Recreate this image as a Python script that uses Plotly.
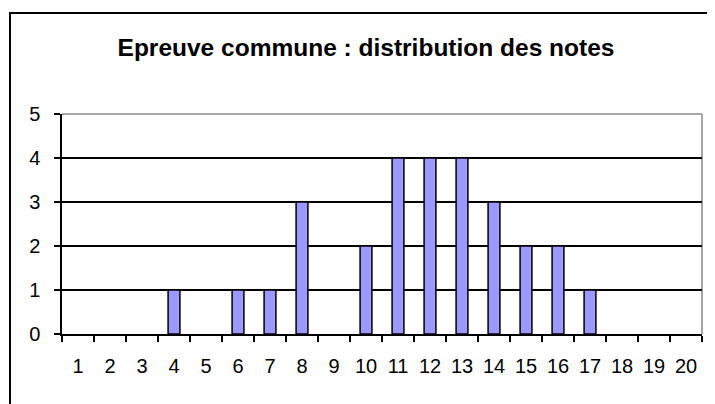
import plotly.graph_objects as go

notes = [str(i) for i in range(1, 21)]
effectifs = [0, 0, 0, 1, 0, 1, 1, 3, 0, 2, 4, 4, 4, 3, 2, 2, 1, 0, 0, 0]
y_ticks = [0, 1, 2, 3, 4, 5]

# zero counts draw no bar (no outline stub)
bar_y = [v if v else None for v in effectifs]

fig = go.Figure(go.Bar(
    x=notes, y=bar_y,
    marker=dict(color="#9999FF", line=dict(color="black", width=1.5)),
    width=0.37,
))

# page body has an 8px margin, so figure coords = screen coords - 8
OFF = 8
W, H = 715, 404
L, T = 62 - OFF, 114 - OFF
R = W - (702 - OFF)
B = H - (334 - OFF)
pw, ph = W - L - R, H - T - B

def px2paper_x(px):
    return (px - OFF - L) / pw

def px2paper_y(py):
    return (H - B - (py - OFF)) / ph

fig.update_layout(
    width=W, height=H,
    margin=dict(l=L, r=R, t=T, b=B),
    paper_bgcolor="white", plot_bgcolor="white",
    showlegend=False,
    font=dict(family="Liberation Sans, Arial, sans-serif", size=20, color="black"),
    title=dict(text="<b>Epreuve commune : distribution des notes</b>",
               x=(366 - OFF) / W, xanchor="center", xref="container",
               y=1 - (47 - OFF) / H, yanchor="middle",
               font=dict(size=24.5, color="black")),
    xaxis=dict(type="category", tickson="boundaries", ticks="outside", ticklen=6,
               tickcolor="black", tickwidth=1.5, showline=True, linecolor="black",
               linewidth=1.5, showgrid=False, ticklabelstandoff=13),
    yaxis=dict(range=[0, 5], tickvals=y_ticks, ticks="outside", ticklen=6,
               tickcolor="black", tickwidth=1.5, showline=True, linecolor="black",
               linewidth=1.5, showgrid=True, gridcolor="black", gridwidth=1.5,
               zeroline=False, ticklabelstandoff=10),
    shapes=[
        dict(type="line", xref="paper", yref="paper", x0=0, x1=1, y0=1, y1=1,
             line=dict(color="#888888", width=1.5), layer="above"),
        dict(type="line", xref="paper", yref="paper", x0=1, x1=1, y0=0, y1=1,
             line=dict(color="#888888", width=1.5), layer="below"),
        dict(type="rect", xref="paper", yref="paper",
             x0=px2paper_x(10), x1=px2paper_x(740),
             y0=px2paper_y(440), y1=px2paper_y(13),
             line=dict(color="black", width=2), layer="below"),
    ],
)

fig.write_html("out.html")
